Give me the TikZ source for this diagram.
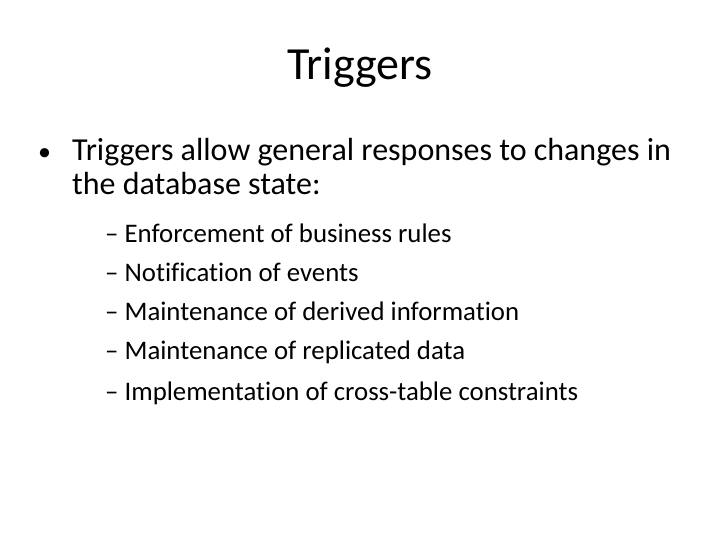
\documentclass[tikz,border=0pt]{standalone}
\usepackage{fontspec}
\setmainfont{Carlito}[Ligatures={NoCommon}]
\begin{document}
\begin{tikzpicture}[x=1pt,y=-1pt,
  txt/.style={anchor=base west,inner sep=0pt,font=\fontsize{32}{38}\selectfont},
  sub/.style={anchor=base west,inner sep=0pt,font=\fontsize{26.8}{32}\selectfont}]
\useasboundingbox (0,0) rectangle (720,540);
\node[anchor=base,inner sep=0pt,font=\fontsize{46}{54}\selectfont] (title) at (360,80) {Triggers};
\node[txt,font=\fontsize{26}{30}\selectfont] (b) at (38,161) {•};
\node[txt] (l1) at (72,161) {Triggers allow general responses to changes in};
\node[txt] (l2) at (72,195) {the database state:};
\node[sub] (s1) at (105,242) {– Enforcement of business rules};
\node[sub] (s2) at (105,281) {– Notification of events};
\node[sub] (s3) at (105,320) {– Maintenance of derived information};
\node[sub] (s4) at (105,359) {– Maintenance of replicated data};
\node[sub] (s5) at (105,400) {– Implementation of cross-table constraints};
\end{tikzpicture}
\end{document}
